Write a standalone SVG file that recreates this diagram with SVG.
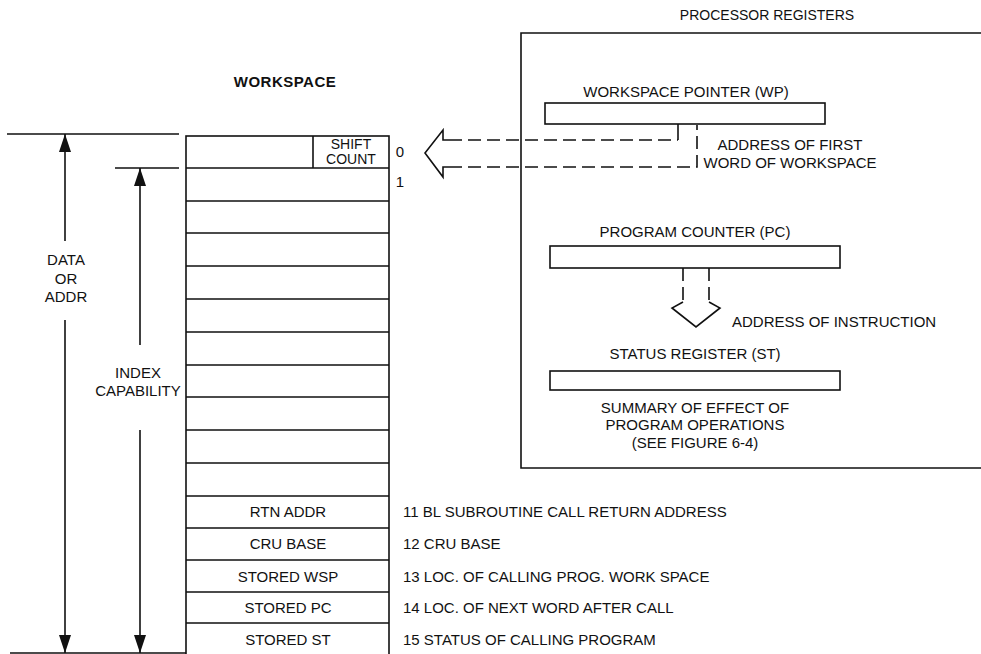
<svg xmlns="http://www.w3.org/2000/svg" width="981" height="654" viewBox="0 0 981 654">
<style>
 text { font-family: "Liberation Sans", Arial, sans-serif; font-size: 15px; fill: #111; }
 .b { font-weight: bold; letter-spacing: 0.5px; }
 .s { font-size: 14px; }
 .c { text-anchor: middle; }
 .ln { stroke: #111; stroke-width: 1.6; fill: none; }
 .dash { stroke-dasharray: 13 6; }
</style>
<defs>
 <marker id="ah" viewBox="0 0 18 12" refX="18" refY="6" markerWidth="18" markerHeight="12" markerUnits="userSpaceOnUse" orient="auto"><path d="M0,0 L18,6 L0,12 z" fill="#111"/></marker>
</defs>
<rect width="981" height="654" fill="#fff"/>

<g id="workspace">
 <text class="b c" x="285" y="87">WORKSPACE</text>
 <rect class="ln" x="186" y="136" width="203" height="522"/>
 <path class="ln" d="M186,168H389 M186,201H389 M186,233H389 M186,266H389 M186,299H389 M186,332H389 M186,365H389 M186,397H389 M186,430H389 M186,463H389 M186,496H389 M186,528H389 M186,560H389 M186,592H389 M186,623H389"/>
</g>
<g id="ws-r0">
 <line class="ln" x1="313" y1="136" x2="313" y2="168"/>
 <text class="s c" x="351" y="149">SHIFT</text>
 <text class="s c" x="351" y="164">COUNT</text>
 <text class="c" x="400" y="157">0</text>
</g>
<g id="ws-r1"><text class="c" x="400" y="187">1</text></g>
<g id="ws-r11"><text class="c" x="288" y="517">RTN ADDR</text><text x="403" y="517">11 BL SUBROUTINE CALL RETURN ADDRESS</text></g>
<g id="ws-r12"><text class="c" x="288" y="549">CRU BASE</text><text x="403" y="549">12 CRU BASE</text></g>
<g id="ws-r13"><text class="c" x="288" y="582">STORED WSP</text><text x="403" y="582">13 LOC. OF CALLING PROG. WORK SPACE</text></g>
<g id="ws-r14"><text class="c" x="288" y="613">STORED PC</text><text x="403" y="613">14 LOC. OF NEXT WORD AFTER CALL</text></g>
<g id="ws-r15"><text class="c" x="288" y="645">STORED ST</text><text x="403" y="645">15 STATUS OF CALLING PROGRAM</text></g>

<g id="data-addr">
 <text class="c" x="66" y="265">DATA</text>
 <text class="c" x="66" y="284">OR</text>
 <text class="c" x="66" y="302">ADDR</text>
</g>
<g id="index-cap">
 <text class="c" x="138" y="378">INDEX</text>
 <text class="c" x="138" y="396">CAPABILITY</text>
</g>

<g id="processor">
 <text class="s c" x="767" y="20">PROCESSOR REGISTERS</text>
 <path class="ln" d="M985,33H521V468H985"/>
</g>
<g id="wp">
 <text class="c" x="686" y="97">WORKSPACE POINTER (WP)</text>
 <rect class="ln" x="545" y="103" width="280" height="21"/>
 <text class="c" x="790" y="150">ADDRESS OF FIRST</text>
 <text class="c" x="790" y="168">WORD OF WORKSPACE</text>
</g>
<g id="pc">
 <text class="c" x="695" y="237">PROGRAM COUNTER (PC)</text>
 <rect class="ln" x="550" y="246" width="290" height="22"/>
 <text x="732" y="327">ADDRESS OF INSTRUCTION</text>
</g>
<g id="st">
 <text class="c" x="695" y="359">STATUS REGISTER (ST)</text>
 <rect class="ln" x="550" y="371" width="290" height="19"/>
 <text class="c" x="695" y="413">SUMMARY OF EFFECT OF</text>
 <text class="c" x="695" y="430">PROGRAM OPERATIONS</text>
 <text class="c" x="695" y="448">(SEE FIGURE 6-4)</text>
</g>

<g id="connectors">
 <path class="ln" d="M7,134H179 M115,168H179 M10,653H186"/>
 <line class="ln" x1="65" y1="241" x2="65" y2="134" marker-end="url(#ah)"/>
 <line class="ln" x1="65" y1="320" x2="65" y2="653" marker-end="url(#ah)"/>
 <line class="ln" x1="140" y1="345" x2="140" y2="168" marker-end="url(#ah)"/>
 <line class="ln" x1="140" y1="430" x2="140" y2="653" marker-end="url(#ah)"/>
 <path class="ln" d="M449,140H443V130L425,153L443,177V167H449"/>
 <path class="ln dash" d="M449,140H678 M449,167H697V125"/>
 <path class="ln" d="M678,140V124"/>
 <path class="ln dash" d="M683,268V302 M709,268V302"/>
 <path class="ln" d="M683,302L672,308L696,327L720,308L709,302"/>
</g>
</svg>
